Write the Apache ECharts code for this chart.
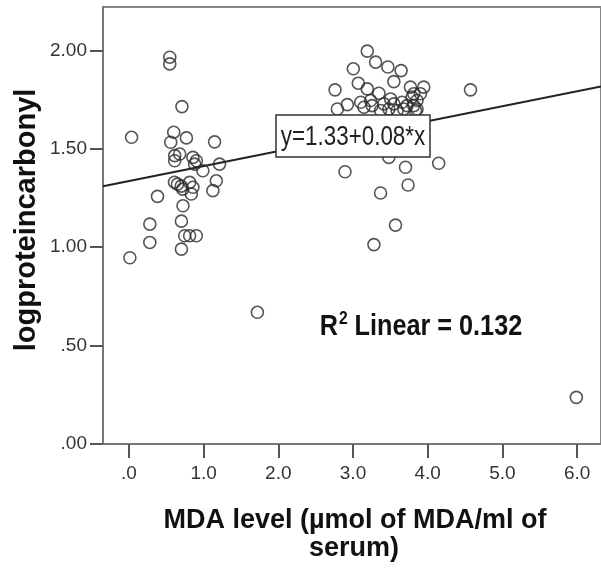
<!DOCTYPE html>
<html>
<head>
<meta charset="utf-8">
<script src="https://cdn.jsdelivr.net/npm/echarts@6/dist/echarts.min.js"></script>
<style>
html,body{margin:0;padding:0;background:#fff;}
#chart{width:601px;height:571px;}
</style>
</head>
<body>
<div id="chart"></div>
<script>
// MDA level (x) values
const mdaLevel = [
  0.547,0.547,0.71,0.036,0.60,0.77,0.56,1.147,0.613,0.68,0.613,0.857,0.903,0.88,1.213,0.99,1.17,1.124,
  0.61,0.65,0.70,0.72,0.813,0.857,0.836,0.383,0.724,0.703,0.28,0.747,0.813,0.903,0.28,0.703,0.013,
  1.72,5.99,
  3.191,3.303,3.467,3.644,3.004,3.071,3.547,2.76,3.191,3.347,3.769,3.947,3.813,3.857,3.903,2.924,2.791,
  3.103,3.147,3.236,3.257,3.369,3.413,3.48,3.503,3.547,3.591,3.657,3.68,3.724,3.791,3.813,3.836,3.857,4.573,
  3.48,3.703,4.147,2.893,3.737,3.369,3.569,3.28
];
// logproteincarbonyl (y) values
const logProteinCarbonyl = [
  1.965,1.931,1.714,1.558,1.584,1.555,1.533,1.535,1.465,1.473,1.439,1.456,1.439,1.422,1.422,1.388,1.337,1.287,
  1.33,1.32,1.31,1.295,1.329,1.304,1.27,1.258,1.21,1.132,1.117,1.058,1.058,1.058,1.024,0.99,0.946,
  0.669,0.237,
  1.996,1.940,1.915,1.897,1.906,1.833,1.841,1.799,1.804,1.782,1.813,1.813,1.779,1.745,1.779,1.724,1.702,
  1.736,1.711,1.745,1.719,1.694,1.728,1.702,1.753,1.728,1.694,1.736,1.702,1.719,1.762,1.719,1.694,1.702,1.799,
  1.456,1.406,1.426,1.383,1.316,1.275,1.112,1.013
];
const xTicks = [0,1,2,3,4,5,6];
const yTicks = [0,0.5,1,1.5,2];
const fitIntercept = 1.336;
const fitSlope = 0.076;
const eqText = 'y=1.33+0.08*x';
const r2Value = '0.132';
const xTitle1 = 'MDA level (\u00b5mol of MDA/ml of';
const xTitle2 = 'serum)';
const yTitle = 'logproteincarbonyl';

const xMin = -0.3467, xMax = 6.32, yMin = 0, yMax = 2.22;
const points = mdaLevel.map((x,i)=>[x, logProteinCarbonyl[i]]);
const fitLine = [[xMin, fitIntercept + fitSlope*xMin],[xMax, fitIntercept + fitSlope*xMax]];

const sans = '"Liberation Sans",Arial,sans-serif';

const chart = echarts.init(document.getElementById('chart'), null, {renderer:'canvas'});
chart.setOption({
  animation:false,
  backgroundColor:'#fff',
  grid:{left:103, top:7, width:500, height:437, show:true, borderColor:'#888', borderWidth:2, backgroundColor:'transparent'},
  xAxis:{
    type:'value', min:xMin, max:xMax,
    splitLine:{show:false},
    axisLine:{show:true, onZero:false, lineStyle:{color:'#777', width:2}},
    axisTick:{show:true, customValues:xTicks, length:14, lineStyle:{color:'#555', width:2}},
    axisLabel:{customValues:xTicks, margin:20, fontFamily:sans, fontSize:19, color:'#333',
      formatter:v=> v===0 ? '.0' : v.toFixed(1)}
  },
  yAxis:{
    type:'value', min:yMin, max:yMax,
    splitLine:{show:false},
    axisLine:{show:true, onZero:false, lineStyle:{color:'#777', width:2}},
    axisTick:{show:true, customValues:yTicks, length:13, lineStyle:{color:'#555', width:2}},
    axisLabel:{customValues:yTicks, margin:16, fontFamily:sans, fontSize:19, color:'#333',
      formatter:v=> v<1 ? v.toFixed(2).replace(/^0/,'') : v.toFixed(2)}
  },
  series:[
    {type:'line', data:fitLine, symbol:'none', silent:true, z:2,
      lineStyle:{color:'#222', width:2}},
    {type:'scatter', data:points, symbol:'circle', symbolSize:12, z:3,
      itemStyle:{color:'rgba(0,0,0,0)', borderColor:'#2a2a2a', borderWidth:1.6}}
  ],
  graphic:[
    {type:'rect', z:100, shape:{x:276, y:115, width:154, height:42},
      style:{fill:'#fff', stroke:'#333', lineWidth:1.5}},
    {type:'text', z:101, x:353, y:137, scaleX:0.8, scaleY:1,
      style:{text:eqText, font:'28px '+sans, fill:'#222', textAlign:'center', textVerticalAlign:'middle'}},
    {type:'text', x:421, y:327, z:100, scaleX:0.87, style:{
      text:'{a|R}{s|2}{a| Linear = '+r2Value+'}',
      textAlign:'center', textVerticalAlign:'middle',
      rich:{
        a:{fontFamily:sans, fontWeight:'bold', fontSize:29, fill:'#111', lineHeight:34},
        s:{fontFamily:sans, fontWeight:'bold', fontSize:18, fill:'#111', verticalAlign:'top', lineHeight:34, padding:[0,0,12,1]}
      }
    }},
    {type:'text', x:355, y:521, z:100, style:{text:xTitle1, font:'bold 27px '+sans, fill:'#111',
      textAlign:'center', textVerticalAlign:'middle'}},
    {type:'text', x:354, y:549, z:100, style:{text:xTitle2, font:'bold 27px '+sans, fill:'#111',
      textAlign:'center', textVerticalAlign:'middle'}},
    {type:'text', x:27, y:220, rotation:Math.PI/2, z:100, style:{text:yTitle, font:'bold 29px '+sans, fill:'#111',
      textAlign:'center', textVerticalAlign:'middle'}}
  ]
});
</script>
</body>
</html>
